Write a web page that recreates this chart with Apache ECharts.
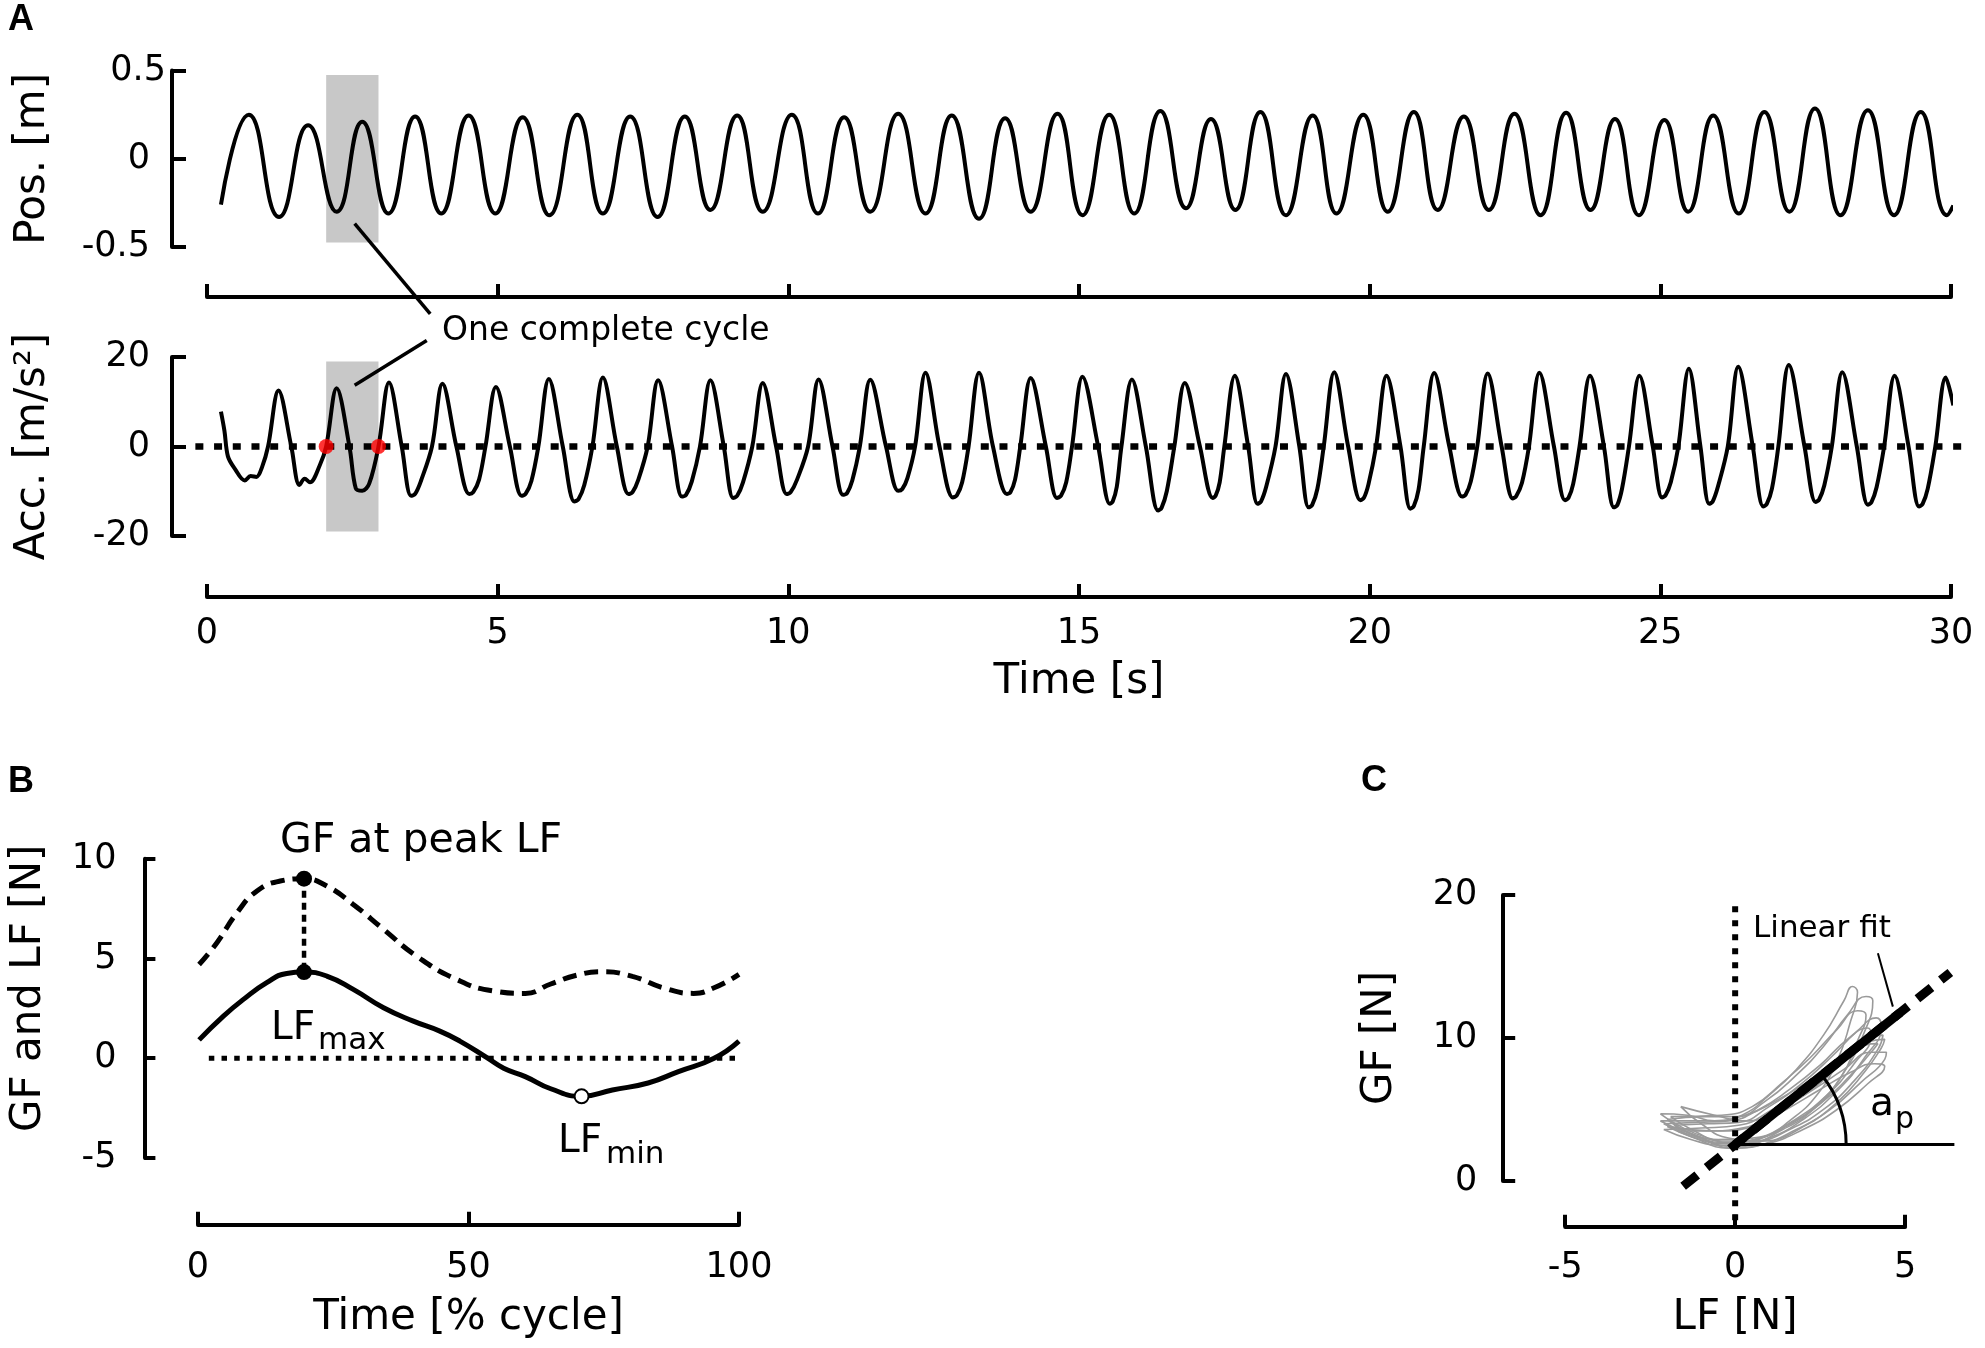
<!DOCTYPE html>
<html><head><meta charset="utf-8">
<script src="https://cdn.jsdelivr.net/npm/echarts@6/dist/echarts.min.js"></script>
<style>html,body{margin:0;padding:0;background:#fff}#c{width:1985px;height:1348px}</style>
</head><body><div id="c"></div>
<script>
// ---------- DATA ----------
const timeTicks = [0, 5, 10, 15, 20, 25, 30];
const posData = [[0.24,-0.26],[0.72,0.25],[1.24,-0.33],[1.74,0.19],[2.23,-0.30],[2.67,0.21],[3.12,-0.31],[3.58,0.24],[4.03,-0.31],[4.50,0.245],[4.96,-0.31],[5.43,0.235],[5.89,-0.32],[6.37,0.25],[6.81,-0.31],[7.28,0.24],[7.75,-0.33],[8.22,0.24],[8.66,-0.29],[9.12,0.245],[9.56,-0.30],[10.06,0.25],[10.51,-0.31],[10.96,0.235],[11.41,-0.30],[11.89,0.255],[12.36,-0.31],[12.81,0.245],[13.28,-0.34],[13.73,0.23],[14.17,-0.30],[14.63,0.255],[15.06,-0.32],[15.52,0.25],[15.95,-0.31],[16.40,0.27],[16.84,-0.28],[17.27,0.225],[17.69,-0.29],[18.12,0.265],[18.56,-0.32],[19.02,0.245],[19.43,-0.31],[19.89,0.25],[20.31,-0.30],[20.76,0.265],[21.17,-0.29],[21.62,0.24],[22.05,-0.29],[22.49,0.255],[22.94,-0.32],[23.38,0.26],[23.80,-0.29],[24.22,0.225],[24.63,-0.32],[25.07,0.22],[25.48,-0.30],[25.91,0.245],[26.35,-0.31],[26.79,0.265],[27.22,-0.30],[27.66,0.285],[28.10,-0.32],[28.57,0.275],[29.02,-0.32],[29.48,0.265],[29.93,-0.32],[30.04,-0.265]];
const accData = [[0.24,7.8],[0.30,3.5],[0.36,-2.2],[0.48,-5.0],[0.65,-7.6],[0.75,-6.6],[0.85,-6.8],[0.95,-4.5],[1.05,0],[1.23,12.5],
[1.45,0],[1.59,-8.6],[1.68,-7.2],[1.77,-8.0],[1.94,-4.2],[2.05,0],[2.23,13.0],
[2.45,0],[2.56,-9.4],[2.67,-9.9],[2.79,-8.3],[2.95,0],[3.13,14.3],
[3.35,0],[3.51,-11.0],[3.58,-10.6],[3.68,-7.7],[3.87,0],[4.05,14.0],
[4.29,0],[4.51,-10.6],[4.58,-10.2],[4.68,-7.4],[4.79,0],[4.97,13.3],
[5.21,0],[5.41,-11.0],[5.48,-10.6],[5.58,-7.7],[5.70,0],[5.88,15.1],
[6.12,0],[6.32,-12.3],[6.39,-11.8],[6.49,-8.6],[6.63,0],[6.81,15.4],
[7.05,0],[7.25,-10.6],[7.32,-10.2],[7.42,-7.4],[7.58,0],[7.76,14.8],
[8.00,0],[8.17,-11.2],[8.24,-10.8],[8.34,-7.8],[8.48,0],[8.66,14.8],
[8.89,0],[9.05,-11.5],[9.12,-11.0],[9.22,-8.0],[9.38,0],[9.56,14.2],
[9.79,0],[9.97,-10.6],[10.04,-10.2],[10.15,-7.4],[10.34,0],[10.52,15.0],
[10.76,0],[10.94,-10.8],[11.01,-10.4],[11.10,-7.6],[11.23,0],[11.41,14.9],
[11.68,0],[11.89,-9.9],[11.96,-9.5],[12.05,-7.0],[12.18,0],[12.36,16.5],
[12.60,0],[12.83,-11.4],[12.90,-10.9],[12.99,-8.0],[13.10,0],[13.28,16.5],
[13.52,0],[13.76,-10.6],[13.82,-10.2],[13.90,-7.4],[13.99,0],[14.17,15.3],
[14.43,0],[14.62,-11.5],[14.69,-11.0],[14.78,-8.0],[14.88,0],[15.06,15.6],
[15.33,0],[15.53,-12.8],[15.58,-12.3],[15.65,-9.0],[15.73,0],[15.91,15.0],
[16.15,0],[16.36,-14.3],[16.42,-13.7],[16.51,-10.0],[16.64,0],[16.82,14.2],
[17.08,0],[17.30,-11.5],[17.35,-11.0],[17.42,-8.0],[17.50,0],[17.68,15.8],
[17.91,0],[18.07,-12.8],[18.13,-12.3],[18.22,-9.0],[18.38,0],[18.56,16.2],
[18.79,0],[18.95,-13.6],[19.01,-13.1],[19.10,-9.5],[19.21,0],[19.39,16.6],
[19.63,0],[19.84,-12.0],[19.90,-11.5],[19.98,-8.4],[20.11,0],[20.29,15.8],
[20.53,0],[20.70,-13.9],[20.76,-13.3],[20.84,-9.7],[20.93,0],[21.11,16.4],
[21.37,0],[21.59,-11.2],[21.65,-10.8],[21.74,-7.8],[21.85,0],[22.03,16.3],
[22.27,0],[22.46,-11.6],[22.52,-11.1],[22.62,-8.1],[22.74,0],[22.92,16.5],
[23.17,0],[23.36,-12.0],[23.42,-11.5],[23.50,-8.4],[23.61,0],[23.79,15.8],
[24.03,0],[24.20,-13.6],[24.26,-13.1],[24.34,-9.5],[24.46,0],[24.64,15.8],
[24.87,0],[25.03,-11.4],[25.09,-10.9],[25.18,-8.0],[25.31,0],[25.49,17.4],
[25.69,0],[25.84,-12.8],[25.90,-12.3],[25.99,-9.0],[26.16,0],[26.34,17.8],
[26.59,0],[26.77,-13.4],[26.83,-12.9],[26.92,-9.4],[27.03,0],[27.21,18.2],
[27.48,0],[27.67,-12.4],[27.73,-11.9],[27.82,-8.7],[27.95,0],[28.13,16.6],
[28.38,0],[28.57,-13.0],[28.63,-12.5],[28.72,-9.1],[28.85,0],[29.03,15.8],
[29.27,0],[29.45,-13.4],[29.51,-12.9],[29.60,-9.4],[29.73,0],[29.91,15.4],
[30.04,9.2]];
const cycleStart = 2.05, cycleEnd = 2.95;
const posShade = [-0.475, 0.475];
const accShade = [-19, 19];
const cycleDots = [[2.05, 0], [2.95, 0]];
const accZeroLine = [[-0.2, 0], [30.2, 0]];
const leaderPos = [[2.54, -0.368], [3.84, -0.879]];
const leaderAcc = [[3.78, 23.7], [2.54, 13.7]];

const pctTicks = [0, 50, 100];
const gfCycle = [[0.2,4.7],[3.5,5.79],[7.2,7.29],[10.9,8.38],[15.2,8.88],[19.6,9.0],[23.8,8.63],[28.7,7.71],[34.3,6.46],[40.4,5.12],[47.8,3.95],[54.6,3.37],[60.5,3.25],[65.2,3.72],[70,4.16],[74.7,4.33],[80.3,4.1],[86,3.53],[91.6,3.25],[95.4,3.53],[100,4.2]];
const lfCycle = [[0.2,0.92],[4.7,2.11],[8.4,2.95],[12.7,3.79],[16.4,4.25],[19.6,4.32],[23.8,4.12],[28.7,3.45],[34.3,2.53],[39.8,1.86],[44.7,1.36],[48.4,0.86],[53.4,0.03],[56.5,-0.5],[60.5,-0.92],[65.2,-1.53],[70.9,-1.91],[76.6,-1.59],[83.2,-1.24],[88.8,-0.67],[95.4,0],[100,0.86]];
const bZeroLine = [[2, 0], [100, 0]];
const peakLink = [[19.6, 9.0], [19.6, 4.32]];
const lfMin = [[70.9, -1.91]];

const loops = [
 [[-2.2,4.7],[-1.6,3.8],[-0.8,3.0],[0,2.6],[0.8,3.0],[1.6,4.2],[2.4,6.0],[3.0,8.4],[3.4,11.2],[3.6,13.2],[3.45,13.6],[3.2,12.6],[2.6,10.2],[1.8,7.8],[1.0,6.0],[0.2,4.6],[-0.6,4.2],[-1.4,4.6],[-2.2,4.7]],
 [[-2.0,4.3],[-1.2,3.2],[-0.3,2.6],[0.6,2.9],[1.5,3.8],[2.4,5.3],[3.2,7.6],[3.8,10.4],[4.05,12.6],[3.85,12.9],[3.3,11.6],[2.6,9.4],[1.8,7.4],[0.9,5.6],[0,4.5],[-0.9,4.5],[-2.0,4.3]],
 [[-1.8,3.9],[-1.0,3.0],[0,2.4],[1.0,3.0],[2.0,4.3],[3.0,6.3],[3.8,8.6],[4.3,10.8],[4.15,11.4],[3.6,10.5],[2.8,8.6],[1.9,6.7],[1.0,5.2],[0.1,4.1],[-0.8,4.0],[-1.8,3.9]],
 [[-2.1,3.6],[-1.3,2.9],[-0.4,2.5],[0.6,2.7],[1.6,3.6],[2.6,5.0],[3.5,7.0],[4.2,9.2],[4.35,10.2],[3.9,10.0],[3.0,8.4],[2.1,6.6],[1.1,5.0],[0.1,3.9],[-1.0,3.7],[-2.1,3.6]],
 [[-1.6,5.2],[-1.0,4.0],[-0.2,3.0],[0.8,2.8],[1.8,3.6],[2.8,5.0],[3.7,6.9],[4.4,8.5],[4.45,9.0],[4.0,9.0],[3.2,7.8],[2.3,6.4],[1.3,5.0],[0.3,4.2],[-0.6,4.6],[-1.6,5.2]],
 [[-2.0,3.8],[-1.2,3.0],[-0.2,2.3],[0.9,2.6],[2.0,3.6],[3.0,5.0],[3.9,6.8],[4.4,8.0],[4.1,8.2],[3.4,7.6],[2.5,6.4],[1.5,5.0],[0.5,3.8],[-0.5,3.5],[-2.0,3.8]],
 [[-2.2,4.2],[-1.4,3.4],[-0.5,2.9],[0.5,3.0],[1.5,3.9],[2.5,5.4],[3.4,7.4],[4.0,9.0],[4.2,9.6],[3.8,9.5],[3.0,8.4],[2.1,6.9],[1.2,5.6],[0.3,4.6],[-0.8,4.2],[-2.2,4.2]],
 [[-1.9,4.5],[-1.2,3.5],[-0.4,2.8],[0.5,2.8],[1.4,3.6],[2.3,5.0],[3.1,7.2],[3.6,9.8],[3.85,11.6],[3.6,11.9],[3.0,10.6],[2.2,8.6],[1.4,6.9],[0.5,5.2],[-0.4,4.6],[-1.9,4.5]],
 [[-1.7,3.5],[-0.9,2.8],[0,2.3],[1.0,2.7],[2.0,3.8],[3.0,5.5],[3.8,7.6],[4.3,9.3],[4.4,9.9],[3.9,9.7],[3.1,8.1],[2.2,6.3],[1.2,4.9],[0.2,3.7],[-0.8,3.5],[-1.7,3.5]],
 [[-2.1,4.0],[-1.3,3.2],[-0.3,2.7],[0.7,3.0],[1.7,4.2],[2.7,6.0],[3.5,8.2],[4.0,10.2],[3.9,10.7],[3.3,9.9],[2.5,8.1],[1.6,6.4],[0.7,5.0],[-0.2,4.2],[-1.1,4.1],[-2.1,4.0]]
];
const lfZeroLine = [[0, 19.2], [0, -3.2]];
const fitDashed = [[-1.53, -0.36], [6.33, 14.58]];
const fitSolid = [[0, 2.55], [4.86, 11.78]];
const fitBase = [[0, 2.55], [6.45, 2.55]];
const fitLeader = [[4.20, 15.92], [4.64, 12.19]];

// ---------- CHART ----------
const FONT = 'DejaVu Sans';
const K = '#000';
const TICK_FS = 35;
const chart = echarts.init(document.getElementById('c'), null, {renderer: 'canvas'});

function axLine(){ return {show: true, onZero: false, lineStyle: {color: K, width: 4}}; }
function axTick(len){ return {show: true, inside: true, length: len, lineStyle: {color: K, width: 4}}; }
function lab(m, show){ return {show: show !== false, margin: m, fontSize: TICK_FS, fontFamily: FONT, color: K}; }
function nameStyle(){ return {fontSize: 42, fontFamily: FONT, color: K}; }

const grids = [
  {left: 207, width: 1744, top: 70.5, height: 176.5},
  {left: 207, width: 1744, top: 357, height: 179},
  {left: 198, width: 541, top: 858.7, height: 299.3},
  {left: 1565.2, width: 339.9, top: 894.9, height: 286.1}
];

const posLabel = lab(6);
posLabel.formatter = function(v){ return v === 0.5 ? '{a|0.5}' : '{b|' + v + '}'; };
posLabel.rich = {a: {fontSize: TICK_FS, fontFamily: FONT, color: K}, b: {fontSize: TICK_FS, fontFamily: FONT, color: K, padding: [0, 16, 0, 0]}};

const xAxes = [
  {gridIndex: 0, type: 'value', min: 0, max: 30, interval: 5, offset: 50, axisLine: axLine(), axisTick: axTick(13), axisLabel: lab(20, false), splitLine: {show: false}},
  {gridIndex: 1, type: 'value', min: 0, max: 30, interval: 5, offset: 61, axisLine: axLine(), axisTick: axTick(13), axisLabel: lab(19), splitLine: {show: false},
   name: 'Time [s]', nameLocation: 'middle', nameGap: 64, nameTextStyle: nameStyle()},
  {gridIndex: 2, type: 'value', min: 0, max: 100, interval: 50, offset: 66.8, axisLine: axLine(), axisTick: axTick(13), axisLabel: lab(26), splitLine: {show: false},
   name: 'Time [% cycle]', nameLocation: 'middle', nameGap: 72, nameTextStyle: nameStyle()},
  {gridIndex: 3, type: 'value', min: -5, max: 5, interval: 5, offset: 45.8, axisLine: axLine(), axisTick: axTick(12), axisLabel: lab(24), splitLine: {show: false},
   name: 'LF [N]', nameLocation: 'middle', nameGap: 70, nameTextStyle: nameStyle()}
];
const yAxes = [
  {gridIndex: 0, type: 'value', min: -0.5, max: 0.5, interval: 0.5, offset: 35, axisLine: axLine(), axisTick: axTick(14), axisLabel: posLabel, splitLine: {show: false},
   name: 'Pos. [m]', nameLocation: 'middle', nameRotate: 90, nameGap: 118, nameTextStyle: nameStyle()},
  {gridIndex: 1, type: 'value', min: -20, max: 20, interval: 20, offset: 35, axisLine: axLine(), axisTick: axTick(14), axisLabel: lab(22), splitLine: {show: false},
   name: 'Acc. [m/s\u00b2]', nameLocation: 'middle', nameRotate: 90, nameGap: 118, nameTextStyle: nameStyle()},
  {gridIndex: 2, type: 'value', min: -5, max: 10, interval: 5, offset: 53.6, axisLine: axLine(), axisTick: axTick(11), axisLabel: lab(28), splitLine: {show: false},
   name: '\u00a0\u00a0\u00a0GF and LF [N]', nameLocation: 'middle', nameRotate: 90, nameGap: 94, nameTextStyle: nameStyle()},
  {gridIndex: 3, type: 'value', min: 0, max: 20, interval: 10, offset: 62, axisLine: axLine(), axisTick: axTick(12), axisLabel: lab(26), splitLine: {show: false},
   name: 'GF [N]', nameLocation: 'middle', nameRotate: 90, nameGap: 102, nameTextStyle: nameStyle()}
];

function line(xi, data, style, extra){
  return Object.assign({type: 'line', xAxisIndex: xi, yAxisIndex: xi, data: data, showSymbol: false, symbol: 'none',
    lineStyle: Object.assign({color: K, width: 4}, style), silent: true, animation: false, z: 3}, extra || {});
}
// straight guide line drawn through the axes' scales without clipping
function guide(xi, pts, style, z){
  return {type: 'custom', xAxisIndex: xi, yAxisIndex: xi, data: [pts[0]], silent: true, animation: false, z: z || 3, clip: false,
    renderItem: function(params, api){
      return {type: 'polyline', shape: {points: pts.map(function(p){ return api.coord(p); })},
        style: Object.assign({stroke: K, lineWidth: 3, fill: null, lineCap: 'butt'}, style)};
    }};
}

const series = [
  line(0, posData, {width: 4}, {smooth: 0.5, markArea: {silent: true, itemStyle: {color: '#c8c8c8'}, data: [[{coord: [cycleStart, posShade[0]]}, {coord: [cycleEnd, posShade[1]]}]]}}),
  line(1, accData, {width: 4}, {smooth: 0.35, markArea: {silent: true, itemStyle: {color: '#c8c8c8'}, data: [[{coord: [cycleStart, accShade[0]]}, {coord: [cycleEnd, accShade[1]]}]]}}),
  guide(1, accZeroLine, {lineWidth: 6.5, lineDash: [8, 10.7]}, 2),
  {type: 'scatter', xAxisIndex: 1, yAxisIndex: 1, data: cycleDots, symbolSize: 15, itemStyle: {color: '#ff0000'}, z: 6, silent: true, animation: false},
  guide(0, leaderPos, {lineWidth: 3.5}),
  guide(1, leaderAcc, {lineWidth: 3.5}),
  // B
  line(2, gfCycle, {width: 5, type: [14, 8]}, {smooth: 0.5}),
  line(2, lfCycle, {width: 5}, {smooth: 0.5}),
  line(2, bZeroLine, {width: 5, type: [5.5, 7.2]}, {z: 2}),
  line(2, peakLink, {width: 4.5, type: [7, 5]}, {z: 2}),
  {type: 'scatter', xAxisIndex: 2, yAxisIndex: 2, data: peakLink, symbolSize: 16, itemStyle: {color: K, opacity: 1}, z: 6, silent: true, animation: false},
  {type: 'scatter', xAxisIndex: 2, yAxisIndex: 2, data: lfMin, symbolSize: 14, itemStyle: {color: '#fff', borderColor: K, borderWidth: 2, opacity: 1}, z: 6, silent: true, animation: false}
];
loops.forEach(function(lp){ series.push(line(3, lp, {width: 1.6, color: '#9a9a9a'}, {smooth: 0.5, z: 2})); });
series.push(guide(3, lfZeroLine, {lineWidth: 6, lineDash: [6, 8]}, 3));
series.push(guide(3, fitDashed, {lineWidth: 9, lineDash: [18, 12]}, 4));
series.push(guide(3, fitSolid, {lineWidth: 9}, 5));
series.push(guide(3, fitBase, {lineWidth: 3}, 4));
series.push(guide(3, fitLeader, {lineWidth: 2}, 4));
series.push({type: 'custom', xAxisIndex: 3, yAxisIndex: 3, data: [fitSolid[0]], silent: true, animation: false, z: 4, clip: false,
  renderItem: function(params, api){
    const o = api.coord(fitSolid[0]);
    const p = api.coord(fitSolid[1]);
    const ang = Math.atan2(p[1] - o[1], p[0] - o[0]);
    return {type: 'arc', shape: {cx: o[0], cy: o[1], r: 111, startAngle: ang, endAngle: 0, clockwise: true},
      style: {stroke: K, lineWidth: 3, fill: null}};
  }});

function txt(x, y, s, size, extra){
  return {type: 'text', x: x, y: y, silent: true, z: 10,
    style: Object.assign({text: s, fontSize: size, fontFamily: FONT, fill: K, align: 'left', verticalAlign: 'middle'}, extra || {})};
}
const graphics = [
  txt(8, 20, 'A', 36, {fontFamily: 'Liberation Sans', fontWeight: 'bold'}),
  txt(8, 782, 'B', 36, {fontFamily: 'Liberation Sans', fontWeight: 'bold'}),
  txt(1361, 781, 'C', 36, {fontFamily: 'Liberation Sans', fontWeight: 'bold'}),
  txt(442, 331, 'One complete cycle', 33),
  txt(421, 841, 'GF at peak LF', 41, {align: 'center'}),
  txt(271, 1029, 'LF', 39),
  txt(318, 1041, 'max', 31),
  txt(558, 1142, 'LF', 39),
  txt(606, 1155, 'min', 31),
  txt(1753, 929, 'Linear fit', 31),
  txt(1870, 1105, 'a', 39),
  txt(1895, 1120, 'p', 30)
];

chart.setOption({
  animation: false,
  backgroundColor: '#fff',
  grid: grids,
  xAxis: xAxes,
  yAxis: yAxes,
  series: series,
  graphic: graphics
});
</script></body></html>
